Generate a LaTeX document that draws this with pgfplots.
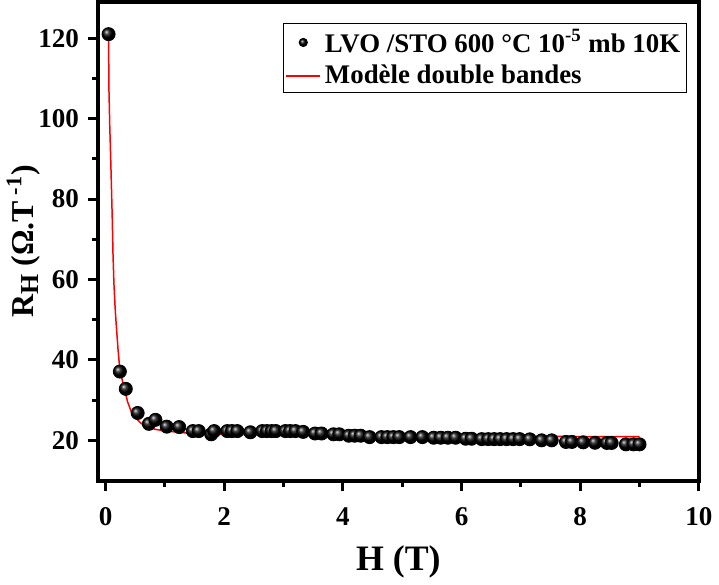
\documentclass[border=0pt]{standalone}
\usepackage{pgfplots}
\pgfplotsset{compat=1.18}
\usepackage{fontspec}
\setmainfont{Liberation Serif}
\begin{document}
\begin{tikzpicture}
\begin{axis}[
 scale only axis, width=302pt, height=240.5pt,
 xmin=-0.13, xmax=10, ymin=10, ymax=129,
 xtick={0,2,...,10}, ytick={20,40,...,120},
 minor xtick={1,3,5,7,9}, minor ytick={30,50,...,110},
 tick align=outside, tick pos=left,
 major tick length=5pt, minor tick length=3pt,
 axis line style={line width=2pt},
 every tick/.style={line width=1.5pt, black},
 /pgf/number format/assume math mode=true,
 ticklabel style={font=\fontsize{13.6}{14}\selectfont\bfseries},
 xticklabel style={yshift=-5pt},
 yticklabel style={xshift=-1pt},
 xlabel={H (T)},
 ylabel={R\raisebox{-0.35ex}{\fontsize{13}{13}\selectfont H} (Ω.T\textsuperscript{ -1})},
 xlabel style={font=\fontsize{18}{18}\selectfont\bfseries, yshift=-3pt},
 ylabel style={font=\fontsize{16}{16}\selectfont\bfseries, yshift=-8pt},
 legend style={at={(0.98,0.956)}, anchor=north east, draw=black, line width=0.6pt,
   font=\fontsize{13.5}{16}\selectfont\bfseries, inner xsep=1pt, inner ysep=1pt, row sep=1pt},
 legend cell align=left,
]
\addplot[only marks, mark=ball, mark size=3.3pt, mark options={ball color=black},
  legend image post style={mark size=2pt}] coordinates {
(0.05,121) (0.24,37.1) (0.34,32.8) (0.54,26.8) (0.73,24.1) (0.84,25.1)
(1.03,23.4) (1.24,23.3) (1.47,22.3) (1.57,22.3) (1.78,21.5) (1.83,22.3)
(2.05,22.3) (2.13,22.3) (2.22,22.3) (2.44,22.0) (2.64,22.3) (2.72,22.3) (2.80,22.3) (2.87,22.3)
(3.03,22.3) (3.11,22.3) (3.20,22.3) (3.33,22.1) (3.53,21.7) (3.64,21.7) (3.84,21.5) (3.94,21.5)
(4.10,21.15) (4.20,21.15) (4.30,21.15) (4.45,20.8) (4.65,20.8) (4.75,20.8) (4.85,20.8) (4.95,20.8)
(5.14,20.8) (5.34,20.8) (5.53,20.65) (5.65,20.65) (5.77,20.65) (5.90,20.65) (6.07,20.4) (6.17,20.4)
(6.34,20.3) (6.45,20.3) (6.55,20.3) (6.65,20.3) (6.76,20.3) (6.87,20.3) (6.98,20.3)
(7.15,20.25) (7.35,20.0) (7.52,20.0) (7.76,19.6) (7.86,19.6) (8.05,19.5) (8.25,19.4)
(8.45,19.35) (8.53,19.35) (8.77,19.0) (8.90,19.0) (9.00,19.0)
};
\addlegendentry{LVO /STO 600 °C 10\textsuperscript{-5} mb 10K}
\addplot[red, line width=0.75pt] coordinates {
(0.05,121) (0.055,108) (0.07,98) (0.085,90.5) (0.10,82) (0.112,75) (0.125,66)
(0.14,59) (0.16,53) (0.18,48.5) (0.21,42.5) (0.24,37.5) (0.28,35) (0.32,32.6)
(0.37,29.6) (0.43,27.2) (0.50,25.6) (0.60,24.2) (0.70,23.3) (0.85,22.7)
(1.03,22.3) (1.3,21.9) (1.7,21.6) (2.5,21.4) (3.5,21.2) (5,21.1) (7,21.0) (9,20.9)
};
\addlegendentry{Modèle double bandes}
\end{axis}
\end{tikzpicture}
\end{document}
